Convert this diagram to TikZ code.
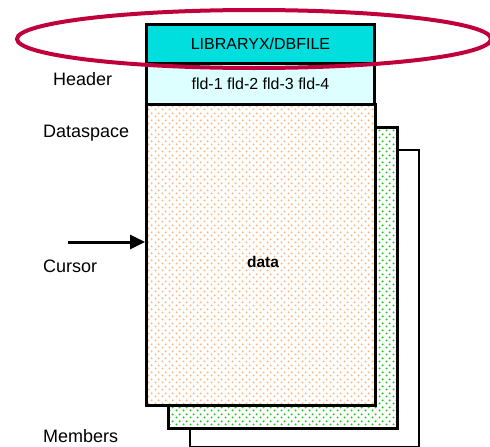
\documentclass[tikz,border=0pt]{standalone}
\usepackage{fontspec}
\setmainfont{Liberation Sans}
\usetikzlibrary{arrows.meta,patterns.meta,shapes.geometric}

% staggered dot tiling used for the member pages
\tikzdeclarepattern{
  name=memberdots,
  type=uncolored,
  bounding box={(0pt,0pt) and (7pt,7pt)},
  tile size={(7pt,7pt)},
  code={
    \fill (1.75pt,1.75pt) circle (1.2pt);
    \fill (5.25pt,5.25pt) circle (1.2pt);
  }
}

\definecolor{titlecyan}{RGB}{0,222,222}
\definecolor{fieldcyan}{RGB}{222,255,255}
\definecolor{peachdot}{RGB}{250,185,130}
\definecolor{greendot}{RGB}{30,200,30}
\definecolor{ringred}{RGB}{192,0,60}

\begin{document}
\begin{tikzpicture}[x=1pt,y=-1pt,
  page/.style={draw=black,line width=3pt,anchor=north west,inner sep=0pt,
    minimum width=229pt,minimum height=301pt},
  lbl/.style={anchor=base west,inner sep=0pt,font=\fontsize{18}{20}\selectfont},
  boxtext/.style={font=\fontsize{16}{18}\selectfont},
  hdr/.style={draw=black,line width=3pt,anchor=north west,inner sep=0pt,
    minimum width=228pt}
]
\useasboundingbox (0,0) rectangle (490,447);

% stacked member pages, back to front
\node[page,line width=2pt,fill=white,minimum height=297pt] (m3) at (189,149) {};
\node[page,preaction={fill=white},pattern={memberdots},pattern color=greendot] (m2) at (167,126) {};
\node[page,preaction={fill=white},pattern={memberdots},pattern color=peachdot] (data) at (145,103) {};
\node[font=\fontsize{15.5}{18}\selectfont\bfseries] (datatxt) at (263,262) {data};

% header: file name and field list
\node[hdr,fill=titlecyan,minimum height=39pt,boxtext] (file) at (145,23) {LIBRARYX/DBFILE};
\node[hdr,fill=fieldcyan,minimum height=41pt,boxtext] (fields) at (145,62) {fld-1 fld-2 fld-3 fld-4};

% side labels
\node[lbl] (lhead) at (53,85) {Header};
\node[lbl] (lspace) at (43,137) {Dataspace};
\node[lbl] (lcursor) at (43,272) {Cursor};
\node[lbl] (lmem) at (43,442) {Members};

% cursor pointer
\coordinate (cur) at (68,242);
\draw[line width=3pt,-{Triangle[length=15pt,width=14pt]}] (cur) -- (cur -| data.west);

% highlight ring round the file name
\node[draw=ringred,line width=4pt,ellipse,inner sep=0pt,minimum width=474pt,minimum height=58pt] (ring) at (254,39) {};
\end{tikzpicture}
\end{document}
